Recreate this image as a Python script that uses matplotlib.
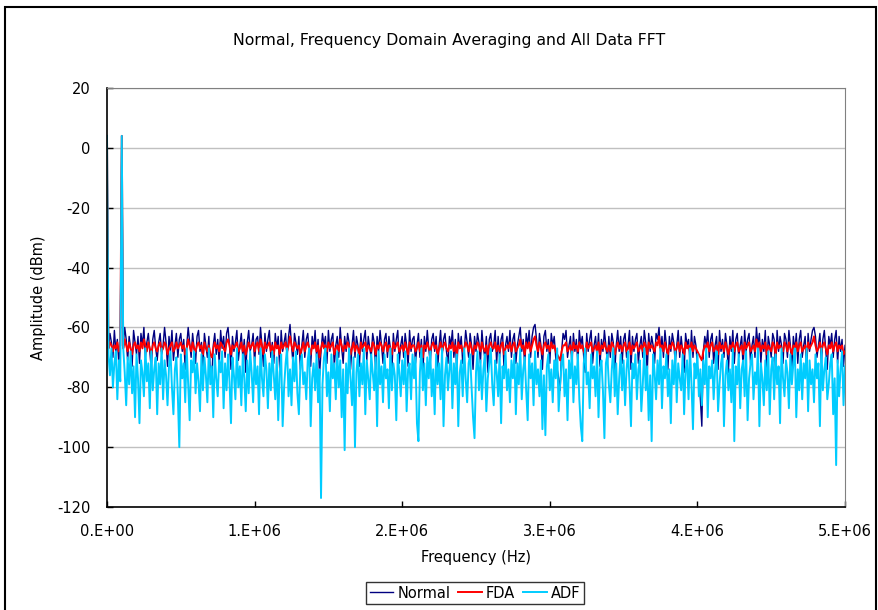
import numpy as np
import matplotlib
matplotlib.use("Agg")
import matplotlib.pyplot as plt
from matplotlib.patches import Rectangle

title = "Normal, Frequency Domain Averaging and All Data FFT"
x_label = "Frequency (Hz)"
y_label = "Amplitude (dBm)"
series_names = ["Normal", "FDA", "ADF"]
freq_step_hz = 10e3

normal = [
    4, -67, -62, -65, -70, -61, -68, -64, -72, -65,
    4, -66, -60, -64, -71, -63, -67, -73, -61, -65,
    -69, -63, -72, -62, -66, -60, -70, -65, -62, -68,
    -74, -64, -61, -67, -71, -65, -62, -69, -66, -60,
    -65, -73, -63, -68, -61, -71, -66, -62, -70, -64,
    -62, -68, -64, -74, -66, -60, -65, -70, -62, -67,
    -72, -63, -61, -68, -65, -73, -62, -66, -70, -63,
    -75, -77, -66, -62, -69, -64, -72, -61, -67, -63,
    -70, -62, -60, -66, -74, -63, -68, -65, -61, -71,
    -66, -62, -70, -64, -75, -65, -61, -68, -66, -62,
    -72, -64, -63, -69, -60, -66, -73, -62, -68, -64,
    -61, -70, -65, -72, -62, -67, -63, -74, -61, -68,
    -65, -62, -70, -63, -59, -66, -72, -62, -65, -69,
    -63, -74, -66, -61, -70, -64, -62, -68, -73, -63,
    -67, -61, -70, -64, -76, -68, -62, -66, -63, -72,
    -61, -68, -64, -62, -73, -66, -63, -70, -60, -67,
    -72, -63, -68, -62, -65, -74, -66, -61, -70, -63,
    -66, -73, -62, -68, -64, -61, -71, -63, -67, -70,
    -62, -65, -74, -63, -68, -61, -66, -72, -64, -62,
    -70, -63, -67, -75, -62, -68, -64, -61, -72, -66,
    -63, -70, -62, -66, -73, -61, -68, -64, -63, -72,
    -66, -62, -70, -64, -76, -63, -68, -61, -67, -72,
    -64, -62, -68, -63, -74, -66, -61, -70, -64, -62,
    -68, -72, -63, -66, -61, -70, -64, -75, -62, -67,
    -63, -72, -68, -61, -65, -70, -62, -66, -74, -63,
    -68, -62, -65, -72, -61, -67, -70, -63, -75, -64,
    -62, -68, -66, -61, -72, -63, -70, -64, -62, -74,
    -66, -63, -68, -61, -70, -64, -62, -72, -66, -63,
    -60, -68, -64, -73, -62, -66, -61, -70, -63, -60,
    -59, -64, -70, -62, -66, -74, -63, -61, -68, -64,
    -72, -62, -66, -63, -70, -74, -77, -81, -68, -62,
    -64, -61, -70, -66, -63, -73, -62, -68, -64, -72,
    -61, -66, -63, -70, -75, -62, -68, -64, -61, -72,
    -66, -63, -70, -62, -73, -64, -68, -61, -66, -72,
    -63, -70, -62, -65, -75, -66, -61, -68, -63, -72,
    -64, -62, -70, -66, -61, -74, -63, -68, -64, -62,
    -72, -66, -63, -70, -61, -65, -75, -62, -68, -63,
    -66, -72, -62, -64, -60, -68, -63, -70, -61, -66,
    -74, -63, -68, -62, -65, -72, -66, -61, -70, -63,
    -68, -75, -62, -66, -64, -72, -61, -70, -63, -66,
    -73, -76, -84, -93, -68, -63, -66, -61, -70, -64,
    -62, -72, -66, -63, -74, -61, -68, -64, -70, -62,
    -66, -75, -63, -68, -61, -72, -64, -62, -70, -66,
    -63, -74, -61, -68, -64, -62, -72, -66, -63, -70,
    -60, -66, -62, -72, -64, -68, -61, -74, -63, -66,
    -70, -62, -64, -75, -61, -68, -63, -66, -72, -62,
    -64, -70, -61, -66, -74, -63, -68, -62, -72, -64,
    -61, -70, -66, -63, -75, -62, -68, -64, -61, -60,
    -63, -70, -66, -62, -72, -64, -61, -68, -74, -63,
    -66, -62, -70, -64, -61, -72, -63, -68, -64, -73,
    -66,
]

fda = [
    4, -67, -65, -66, -68, -66, -67, -65, -68, -66,
    4, -67, -64, -66, -68, -65, -67, -69, -66, -65,
    -67, -66, -68, -65, -67, -64, -66, -68, -65, -67,
    -69, -66, -65, -67, -68, -66, -65, -68, -67, -65,
    -66, -69, -67, -66, -65, -68, -67, -65, -67, -66,
    -65, -67, -66, -69, -67, -64, -66, -68, -65, -67,
    -68, -66, -65, -67, -66, -69, -65, -67, -68, -66,
    -69, -70, -67, -65, -67, -66, -68, -65, -66, -67,
    -68, -65, -64, -66, -69, -66, -67, -66, -65, -68,
    -67, -65, -68, -66, -69, -67, -65, -67, -66, -65,
    -68, -66, -65, -68, -64, -66, -69, -65, -67, -66,
    -65, -68, -66, -69, -65, -67, -66, -69, -65, -67,
    -66, -65, -68, -66, -63, -66, -68, -65, -66, -67,
    -66, -69, -67, -65, -68, -66, -65, -67, -69, -66,
    -67, -65, -68, -66, -70, -67, -65, -67, -66, -68,
    -65, -67, -66, -65, -69, -67, -66, -68, -64, -66,
    -68, -66, -67, -65, -66, -69, -67, -65, -68, -66,
    -67, -69, -65, -67, -66, -65, -68, -66, -67, -68,
    -65, -66, -69, -66, -67, -65, -66, -68, -66, -65,
    -68, -66, -67, -69, -65, -67, -66, -65, -68, -67,
    -66, -68, -65, -67, -69, -65, -67, -66, -66, -68,
    -67, -65, -68, -66, -70, -66, -67, -65, -67, -68,
    -66, -65, -67, -66, -69, -67, -65, -68, -66, -65,
    -67, -68, -66, -67, -65, -68, -66, -69, -65, -67,
    -66, -68, -67, -65, -66, -68, -65, -67, -69, -66,
    -67, -65, -66, -68, -65, -67, -68, -66, -69, -66,
    -65, -67, -67, -65, -68, -66, -68, -66, -65, -69,
    -67, -66, -67, -65, -68, -66, -65, -68, -67, -66,
    -64, -67, -66, -69, -65, -67, -65, -68, -66, -64,
    -63, -66, -68, -65, -67, -69, -66, -65, -67, -66,
    -68, -65, -67, -66, -68, -69, -70, -71, -68, -66,
    -66, -65, -68, -67, -66, -69, -65, -67, -66, -68,
    -65, -67, -66, -68, -69, -65, -67, -66, -65, -68,
    -67, -66, -68, -65, -69, -66, -67, -65, -67, -68,
    -66, -68, -65, -66, -69, -67, -65, -67, -66, -68,
    -66, -65, -68, -67, -65, -69, -66, -67, -66, -65,
    -68, -67, -66, -68, -65, -66, -69, -65, -67, -66,
    -67, -68, -65, -66, -63, -67, -66, -68, -65, -67,
    -69, -66, -67, -65, -66, -68, -67, -65, -68, -66,
    -67, -69, -65, -67, -66, -68, -65, -68, -66, -67,
    -68, -69, -70, -71, -68, -66, -67, -65, -68, -66,
    -65, -68, -67, -66, -69, -65, -67, -66, -68, -65,
    -67, -69, -66, -67, -65, -68, -66, -65, -68, -67,
    -66, -69, -65, -67, -66, -65, -68, -67, -66, -68,
    -64, -67, -65, -68, -66, -67, -65, -69, -66, -67,
    -68, -65, -66, -69, -65, -67, -66, -67, -68, -65,
    -66, -68, -65, -67, -69, -66, -67, -65, -68, -66,
    -65, -68, -67, -66, -69, -65, -67, -66, -65, -63,
    -66, -68, -67, -65, -68, -66, -65, -67, -69, -66,
    -67, -65, -68, -66, -65, -68, -66, -67, -66, -69,
    -68,
]

adf = [
    4, -69, -76, -67, -80, -72, -68, -84, -71, -78,
    4, -67, -75, -86, -70, -79, -68, -82, -73, -90,
    -69, -77, -92, -71, -75, -83, -67, -78, -72, -87,
    -68, -81, -74, -70, -89, -72, -79, -67, -84, -71,
    -76, -86, -73, -68, -80, -89, -74, -70, -83, -100,
    -69, -77, -72, -85, -67, -79, -91, -71, -75, -68,
    -82, -72, -78, -88, -69, -81, -70, -76, -85, -67,
    -79, -73, -90, -69, -77, -83, -71, -75, -68, -87,
    -72, -81, -69, -78, -92, -70, -76, -84, -67, -80,
    -73, -86, -69, -77, -88, -71, -82, -68, -75, -85,
    -70, -79, -73, -89, -67, -77, -83, -69, -74, -87,
    -72, -81, -68, -76, -84, -70, -91, -75, -69, -93,
    -80, -72, -67, -83, -74, -86, -70, -78, -68, -82,
    -89, -73, -69, -79, -75, -84, -71, -67, -93, -77,
    -72, -81, -69, -85, -74, -117, -79, -70, -67, -83,
    -75, -88, -69, -77, -72, -84, -68, -80, -71, -90,
    -74, -101, -72, -82, -67, -77, -86, -70, -100, -75,
    -69, -83, -72, -79, -67, -89, -71, -77, -84, -69,
    -75, -81, -70, -93, -68, -79, -73, -85, -69, -77,
    -74, -87, -67, -81, -72, -76, -91, -69, -75, -83,
    -71, -79, -68, -88, -74, -72, -84, -69, -77, -70,
    -92, -98, -75, -67, -81, -72, -86, -70, -77, -68,
    -83, -74, -89, -69, -79, -72, -84, -67, -93, -76,
    -70, -81, -74, -68, -87, -72, -79, -69, -93, -75,
    -71, -83, -67, -77, -85, -72, -69, -80, -90, -97,
    -75, -68, -81, -71, -84, -74, -69, -88, -77, -72,
    -67, -79, -86, -71, -75, -83, -69, -92, -73, -77,
    -68, -81, -74, -85, -71, -77, -69, -89, -72, -79,
    -67, -84, -74, -70, -81, -91, -69, -77, -72, -86,
    -68, -79, -74, -83, -71, -94, -76, -96, -73, -69,
    -81, -74, -85, -71, -77, -67, -88, -79, -72, -69,
    -83, -74, -91, -71, -77, -68, -85, -73, -79, -69,
    -84, -93, -98, -72, -67, -79, -75, -87, -69, -77,
    -73, -83, -68, -90, -74, -71, -81, -97, -72, -69,
    -79, -85, -74, -67, -83, -72, -89, -77, -69, -81,
    -71, -86, -74, -68, -79, -93, -72, -77, -69, -84,
    -74, -71, -88, -79, -67, -81, -73, -91, -76, -98,
    -69, -75, -84, -71, -79, -67, -87, -73, -77, -69,
    -83, -74, -92, -71, -79, -68, -85, -72, -77, -81,
    -69, -89, -74, -71, -84, -67, -79, -94, -72, -77,
    -69, -83, -74, -86, -71, -79, -67, -90, -73, -77,
    -71, -84, -74, -68, -88, -79, -72, -69, -93, -76,
    -71, -81, -74, -85, -67, -98, -73, -79, -69, -87,
    -74, -71, -83, -68, -91, -77, -72, -69, -84, -75,
    -79, -67, -93, -72, -77, -86, -71, -81, -68, -89,
    -74, -70, -84, -69, -79, -73, -92, -67, -77, -83,
    -71, -75, -87, -69, -79, -72, -67, -90, -74, -81,
    -69, -84, -72, -77, -67, -88, -71, -79, -74, -85,
    -69, -77, -72, -93, -67, -81, -74, -70, -84, -79,
    -72, -69, -89, -77, -106, -71, -83, -74, -68, -86,
    -73,
]

x_ticks = [0, 1e6, 2e6, 3e6, 4e6, 5e6]
x_tick_labels = ["0.E+00", "1.E+06", "2.E+06", "3.E+06", "4.E+06", "5.E+06"]
y_ticks = [-120, -100, -80, -60, -40, -20, 0, 20]

colors = ["#000080", "#ff0000", "#00ccff"]
widths = [1.0, 1.4, 1.4]

plt.rcParams['font.family'] = ['DejaVu Sans']
plt.rcParams['axes.unicode_minus'] = False
fig = plt.figure(figsize=(8.79, 6.10), dpi=100)
ax = fig.add_axes([107/879, 1-507/610, (845-107)/879, (507-88)/610])

freq = np.arange(len(normal)) * freq_step_hz
for vals, name, c, w in zip([normal, fda, adf], series_names, colors, widths):
    ax.plot(freq, vals, color=c, lw=w, label=name)

ax.set_xlim(0, 5e6)
ax.set_ylim(-120, 20)
ax.set_xticks(x_ticks)
ax.set_xticklabels(x_tick_labels)
ax.set_yticks(y_ticks)
ax.yaxis.grid(True, color="#c0c0c0", lw=1)
ax.set_axisbelow(True)
for s in ["top", "right"]:
    ax.spines[s].set_color("#808080")
for s in ["left", "bottom"]:
    ax.spines[s].set_color("black")
    ax.spines[s].set_linewidth(1.2)
ax.tick_params(direction="in", length=4, width=1, labelsize=10.5, pad=12)

ax.set_xlabel(x_label, fontsize=10.5, labelpad=8)
ax.set_ylabel(y_label, fontsize=10.5, labelpad=8)
fig.text(449/879, 1-40/610, title, ha="center", va="center", fontsize=11.3)

leg = fig.legend(loc="center", bbox_to_anchor=(475/879, 1-593/610), ncol=3,
                 frameon=True, fancybox=False, fontsize=10.5,
                 handlelength=1.6, handletextpad=0.3, columnspacing=0.55,
                 borderpad=0.25, borderaxespad=0)
leg.get_frame().set_edgecolor("black")
leg.get_frame().set_linewidth(1)

fig.patches.append(Rectangle((5/879, -0.02), 871/879, 1-7/610+0.02,
                             transform=fig.transFigure, fill=False,
                             edgecolor="black", lw=1.5))

fig.savefig("out.png", dpi=100)
